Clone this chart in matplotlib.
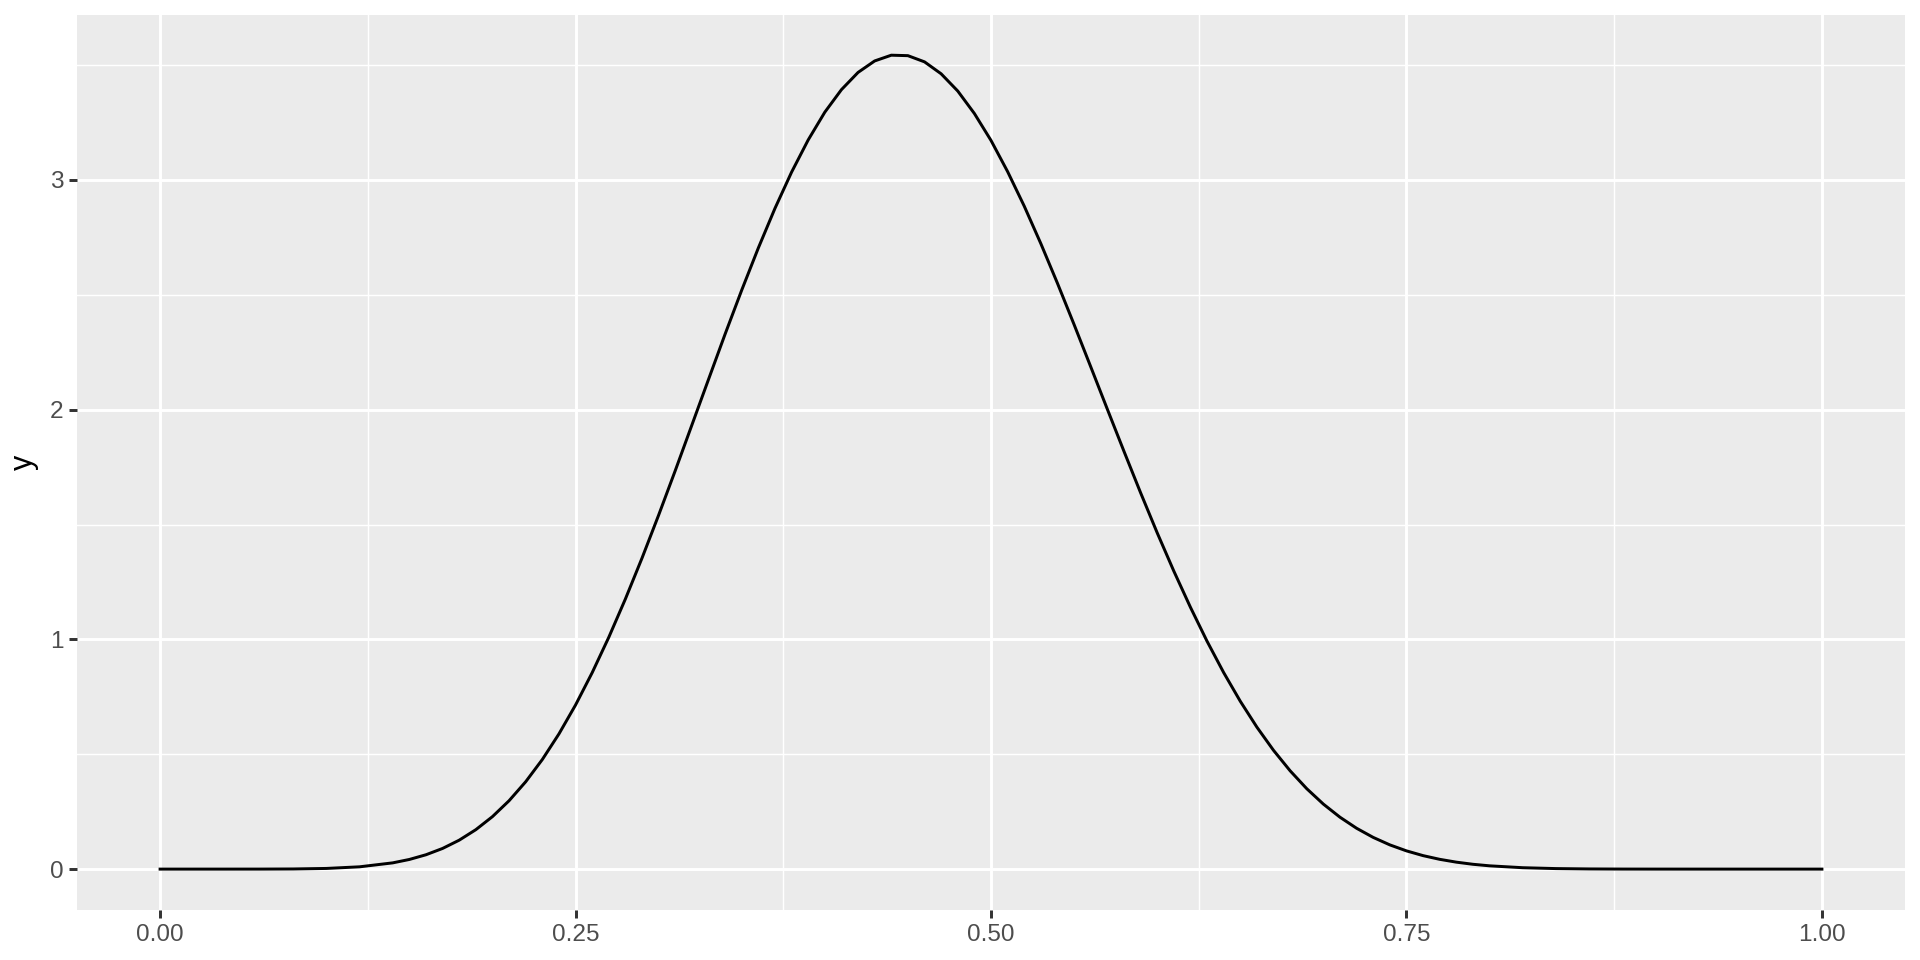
import matplotlib.pyplot as plt
from matplotlib.ticker import MultipleLocator

# density values
x = [0.00, 0.02, 0.04, 0.06, 0.08, 0.10, 0.12, 0.14, 0.15, 0.16,
     0.17, 0.18, 0.19, 0.20, 0.21, 0.22, 0.23, 0.24, 0.25, 0.26,
     0.27, 0.28, 0.29, 0.30, 0.31, 0.32, 0.33, 0.34, 0.35, 0.36,
     0.37, 0.38, 0.39, 0.40, 0.41, 0.42, 0.43, 0.44, 0.45, 0.46,
     0.47, 0.48, 0.49, 0.50, 0.51, 0.52, 0.53, 0.54, 0.55, 0.56,
     0.57, 0.58, 0.59, 0.60, 0.61, 0.62, 0.63, 0.64, 0.65, 0.66,
     0.67, 0.68, 0.69, 0.70, 0.71, 0.72, 0.73, 0.74, 0.75, 0.76,
     0.77, 0.78, 0.79, 0.80, 0.82, 0.84, 0.86, 0.88, 0.90, 0.92,
     0.94, 0.96, 0.98, 1.00]
y = [0.0, 0.0, 0.000004, 0.000075, 0.0006, 0.0029, 0.00996, 0.0272, 0.0420, 0.0625,
     0.0900, 0.126, 0.1717, 0.2285, 0.2977, 0.3803, 0.4770, 0.5884, 0.7144, 0.855,
     1.0091, 1.176, 1.3539, 1.541, 1.7347, 1.933, 2.1314, 2.329, 2.5205, 2.704,
     2.8763, 3.034, 3.1742, 3.295, 3.393, 3.468, 3.518, 3.543, 3.541, 3.514,
     3.462, 3.387, 3.2892, 3.172, 3.0362, 2.886, 2.7227, 2.550, 2.3705, 2.187,
     2.0022, 1.819, 1.6386, 1.464, 1.2975, 1.140, 0.9921, 0.8556, 0.7308, 0.618,
     0.5171, 0.428, 0.3501, 0.283, 0.2259, 0.1778, 0.1380, 0.1055, 0.0794, 0.0587,
     0.0426, 0.0303, 0.0210, 0.0143, 0.00607, 0.00227, 0.00072, 0.000185, 0.000036, 0.000005,
     0.0, 0.0, 0.0, 0.0]

plt.rcParams["font.family"] = ["Liberation Sans", "DejaVu Sans"]

fig = plt.figure(figsize=(9.6, 4.8), dpi=200)
ax = fig.add_axes([77 / 1920, 1 - 910 / 960, (1905 - 77) / 1920, (910 - 15) / 960])

ax.set_facecolor("#EBEBEB")
for s in ax.spines.values():
    s.set_visible(False)

ax.plot(x, y, color="black", linewidth=1.07, zorder=3)

ax.set_xlim(-0.05, 1.05)
ax.set_ylim(-0.178, 3.718)
ax.xaxis.set_major_locator(MultipleLocator(0.25))
ax.xaxis.set_minor_locator(MultipleLocator(0.125))
ax.yaxis.set_major_locator(MultipleLocator(1))
ax.yaxis.set_minor_locator(MultipleLocator(0.5))
ax.set_xticks([0, 0.25, 0.5, 0.75, 1.0])
ax.set_xticklabels(["0.00", "0.25", "0.50", "0.75", "1.00"])

ax.grid(which="major", color="white", linewidth=1.07)
ax.grid(which="minor", color="white", linewidth=0.53)
ax.set_axisbelow(True)

ax.tick_params(which="major", length=2.75, width=1.07, color="#333333",
               labelsize=8.8, labelcolor="#4D4D4D", pad=2.2)
ax.tick_params(which="minor", length=0)

ax.set_ylabel("y", fontsize=11, color="black", labelpad=4)

fig.savefig("out.png", dpi=200)
